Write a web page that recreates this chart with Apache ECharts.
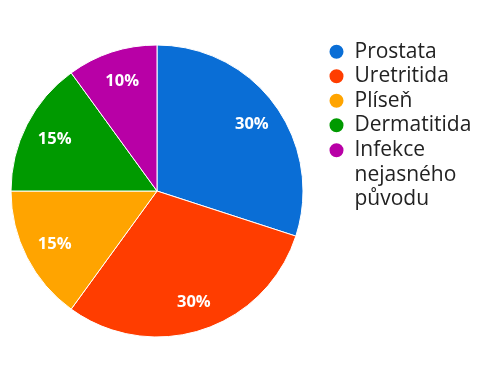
<!DOCTYPE html>
<html>
<head>
<meta charset="utf-8">
<script src="https://cdn.jsdelivr.net/npm/echarts@6/dist/echarts.min.js"></script>
<style>
html,body{margin:0;padding:0;background:#fff;}
#c{width:485px;height:373px;}
</style>
</head>
<body>
<div id="c"></div>
<script>
const categories = ["Prostata", "Uretritida", "Plíseň", "Dermatitida", "Infekce\nnejasného\npůvodu"];
const values = [30, 30, 15, 15, 10];
const colors = ["#0a6ed6", "#ff3d00", "#ffa400", "#009a00", "#b800a6"];

const chart = echarts.init(document.getElementById('c'), null, {renderer: 'canvas'});
const pieData = categories.map((n, i) => ({name: n, value: values[i], itemStyle: {color: colors[i]}}));
const labelData = categories.map((n, i) => ({name: n, value: values[i]}));
const total = values.reduce((a, b) => a + b, 0);

const FONT = 'Open Sans';
const FS = 21;
const LH = 24.5;
const richT = {fontFamily: FONT, fontSize: FS, color: '#222', lineHeight: LH, padding: [0, 0, 0, 5]};
const legendCommon = {
  orient: 'vertical',
  icon: 'circle',
  itemWidth: 16,
  itemHeight: 16,
  itemGap: 0,
  padding: 0,
  selectedMode: false
};
const wrap = name => name.split('\n').map(l => '{t|' + l + '}').join('\n');

chart.setOption({
  animation: false,
  legend: [
    Object.assign({}, legendCommon, {
      left: 327.5,
      top: 39.5,
      data: categories.slice(0, 4),
      formatter: wrap,
      textStyle: {fontFamily: FONT, fontSize: FS, color: '#222', lineHeight: LH, rich: {t: richT}}
    }),
    Object.assign({}, legendCommon, {
      left: 327.5,
      top: 89,
      data: categories.slice(4),
      formatter: name => '{s| }\n' + wrap(name),
      textStyle: {
        fontFamily: FONT, fontSize: FS, color: '#222', lineHeight: LH,
        rich: {s: {fontSize: 1, lineHeight: 2 * LH}, t: richT}
      }
    })
  ],
  series: [
    {
      type: 'pie',
      center: [157, 191],
      radius: [0, 146],
      startAngle: 90,
      clockwise: true,
      label: {show: false},
      labelLine: {show: false},
      itemStyle: {borderColor: '#fff', borderWidth: 1},
      emphasis: {disabled: true},
      data: pieData
    },
    {
      type: 'pie',
      center: [157, 191],
      radius: [0, 226],
      startAngle: 90,
      clockwise: true,
      silent: true,
      z: 5,
      itemStyle: {color: 'rgba(0,0,0,0)', borderWidth: 0},
      label: {
        show: true,
        position: 'inside',
        formatter: p => Math.round(p.value / total * 100) + '%',
        color: '#fff',
        fontFamily: FONT,
        fontWeight: 'bold',
        fontSize: 16.5,
        offset: [1, 1]
      },
      labelLine: {show: false},
      emphasis: {disabled: true},
      data: labelData
    }
  ]
});
</script>
</body>
</html>
